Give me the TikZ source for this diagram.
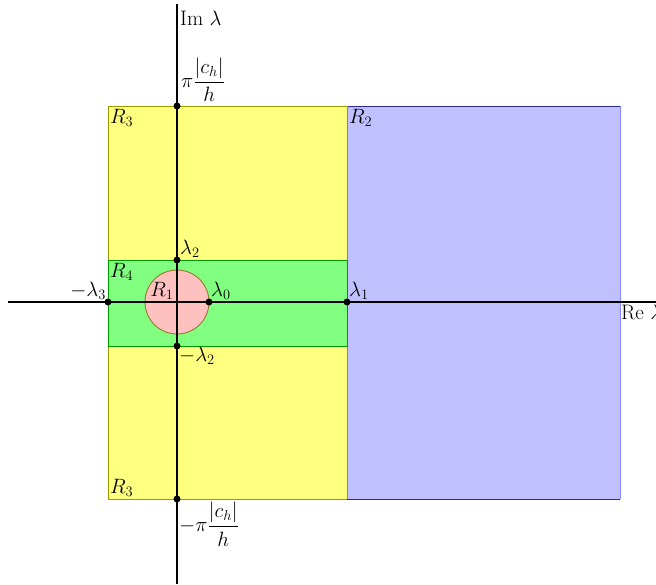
\documentclass[tikz,border=0pt]{standalone}
\usepackage{amsmath}
\begin{document}
\begin{tikzpicture}[x=1pt,y=-1pt,
  lbl/.style={inner sep=2pt,font=\fontsize{21}{25}\selectfont},
  pt/.style={circle,fill=black,inner sep=0pt,minimum size=7pt},
  axis/.style={line width=2.9pt,black}]
\definecolor{yfill}{RGB}{255,255,128}
\definecolor{ydraw}{RGB}{153,153,0}
\definecolor{bfill}{RGB}{192,192,255}
\definecolor{bdraw}{RGB}{40,40,150}
\definecolor{gfill}{RGB}{128,255,128}
\definecolor{gdraw}{RGB}{0,153,0}
\definecolor{pfill}{RGB}{255,192,192}
\definecolor{pdraw}{RGB}{153,120,50}
\useasboundingbox (0,0) rectangle (656,584);
% regions
\fill[yfill] (108,106) rectangle (347,499);
\draw[ydraw,line width=0.9pt] (108,106) rectangle (347,499);
\fill[bfill] (347,106) rectangle (620,499);
\draw[bdraw,line width=0.9pt] (347,106) -- (620,106);
\draw[bdraw,line width=0.9pt] (347,499) -- (620,499);
\draw[bfill!70!blue,line width=0.9pt] (620,106) -- (620,499);
\draw[ydraw,line width=0.9pt] (347,106) -- (347,499);
\draw[gdraw,line width=0.9pt,fill=gfill] (108,260) rectangle (347,346);
\draw[pdraw,line width=0.9pt,fill=pfill] (177,302) circle (32);
% axes
\coordinate (xl) at (8,302);
\coordinate (xr) at (656,302);
\coordinate (yt) at (177,4);
\coordinate (yb) at (177,584);
\draw[axis] (xl) -- (xr);
\draw[axis] (yt) -- (yb);
% points
\node[pt] (ptop) at (177,106) {};
\node[pt] (pbot) at (177,499) {};
\node[pt] (l2) at (177,260) {};
\node[pt] (ml2) at (177,346) {};
\node[pt] (ml3) at (108,302) {};
\node[pt] (l0) at (209,302) {};
\node[pt] (l1) at (347,302) {};
% labels
\node[lbl,anchor=west] (im) at (178,18) {Im $\lambda$};
\node[lbl,anchor=north west] (re) at (619,303) {Re $\lambda$};
\node[lbl,anchor=south west] (tpi) at (179,104) {$\pi\dfrac{|c_h|}{h}$};
\node[lbl,anchor=north west] (bpi) at (177,500) {$-\pi\dfrac{|c_h|}{h}$};
\node[lbl,anchor=south west] (tl2) at (178,260) {$\lambda_2$};
\node[lbl,anchor=north west] (tml2) at (177,345) {$-\lambda_2$};
\node[lbl,anchor=south east] (tml3) at (108,302) {$-\lambda_3$};
\node[lbl,anchor=south west] (tl0) at (209,302) {$\lambda_0$};
\node[lbl,anchor=south west] (tl1) at (347,302) {$\lambda_1$};
\node[lbl] (r1) at (162,291) {$R_1$};
\node[lbl,anchor=north west] (r4) at (108,261) {$R_4$};
\node[lbl,anchor=north west] (r3t) at (108,107) {$R_3$};
\node[lbl,anchor=south west] (r3b) at (108,499) {$R_3$};
\node[lbl,anchor=north west] (r2) at (347,107) {$R_2$};
\end{tikzpicture}
\end{document}
